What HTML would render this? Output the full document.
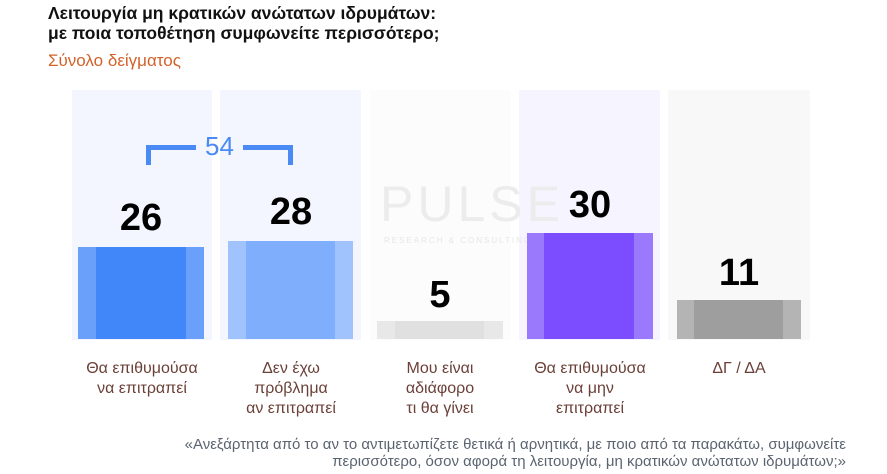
<!DOCTYPE html>
<html><head><meta charset="utf-8"><style>
body{margin:0;width:887px;height:474px;background:#fff;position:relative;overflow:hidden;font-family:"Liberation Sans Narrow","Liberation Sans",sans-serif}
div{position:absolute}
.p{top:90px;height:250px}
.in{top:0;bottom:0}
.n{font-weight:bold;font-size:38px;color:#000;text-align:center;width:140px;line-height:38px}
.l{color:#6b4038;font-size:16px;line-height:20px;text-align:center;width:150px;top:359px}
</style></head><body>
<div style="left:48px;top:3px;font-weight:bold;font-size:17.5px;line-height:20px;color:#111">Λειτουργία μη κρατικών ανώτατων ιδρυμάτων:<br>με ποια τοποθέτηση συμφωνείτε περισσότερο;</div>
<div style="left:48px;top:51px;font-size:17px;color:#d2622a">Σύνολο δείγματος</div>

<div class="p" style="left:72px;width:140px;background:#f3f6fe"></div>
<div class="p" style="left:220px;width:141px;background:#f3f6fe"></div>
<div class="p" style="left:370px;width:141px;background:#fcfcfc"></div>
<div class="p" style="left:519px;width:141px;background:#f6f4ff"></div>
<div class="p" style="left:668px;width:142px;background:#f8f8f8"></div>

<div style="left:380px;top:175px;font-family:'Liberation Sans',sans-serif;font-size:50px;color:#ececec;letter-spacing:4px">PULSE</div>
<div style="left:384px;top:236px;font-size:8px;color:#e6e6e6;letter-spacing:2px">RESEARCH &amp; CONSULTING</div>

<div style="left:78px;top:247px;width:126px;height:92px;background:#6aa0fa"><div class="in" style="left:18px;width:90px;background:#4287f9"></div></div>
<div style="left:228px;top:241px;width:125px;height:98px;background:#a1c3fd"><div class="in" style="left:18px;width:89px;background:#7eaefc"></div></div>
<div style="left:377px;top:321px;width:126px;height:18px;background:#e8e8e8"><div class="in" style="left:18px;width:89px;background:#e0e0e0"></div></div>
<div style="left:527px;top:233px;width:126px;height:106px;background:#9a79fd"><div class="in" style="left:17px;width:90px;background:#7c4dff"></div></div>
<div style="left:677px;top:300px;width:124px;height:39px;background:#b4b4b4"><div class="in" style="left:17px;width:89px;background:#9e9e9e"></div></div>

<div class="n" style="left:71px;top:199px">26</div>
<div class="n" style="left:221px;top:193px">28</div>
<div class="n" style="left:370px;top:276px">5</div>
<div class="n" style="left:520px;top:186px">30</div>
<div class="n" style="left:669px;top:254px">11</div>

<div style="left:146px;top:145px;width:5px;height:20px;background:#4a8af4"></div>
<div style="left:146px;top:145px;width:50px;height:5px;background:#4a8af4"></div>
<div style="left:243px;top:145px;width:50px;height:5px;background:#4a8af4"></div>
<div style="left:288px;top:145px;width:5px;height:20px;background:#4a8af4"></div>
<div style="left:196px;top:131px;width:47px;text-align:center;font-size:26px;color:#4a8af4;font-family:'Liberation Sans',sans-serif">54</div>

<div class="l" style="left:67px">Θα επιθυμούσα<br>να επιτραπεί</div>
<div class="l" style="left:216px">Δεν έχω<br>πρόβλημα<br>αν επιτραπεί</div>
<div class="l" style="left:365px">Μου είναι<br>αδιάφορο<br>τι θα γίνει</div>
<div class="l" style="left:515px">Θα επιθυμούσα<br>να μην<br>επιτραπεί</div>
<div class="l" style="left:664px">ΔΓ / ΔΑ</div>

<div style="right:41px;top:436px;text-align:right;font-size:15px;line-height:17px;color:#5a6470">«Ανεξάρτητα από το αν το αντιμετωπίζετε θετικά ή αρνητικά, με ποιο από τα παρακάτω, συμφωνείτε<br>περισσότερο, όσον αφορά τη λειτουργία, μη κρατικών ανώτατων ιδρυμάτων;»</div>
</body></html>
